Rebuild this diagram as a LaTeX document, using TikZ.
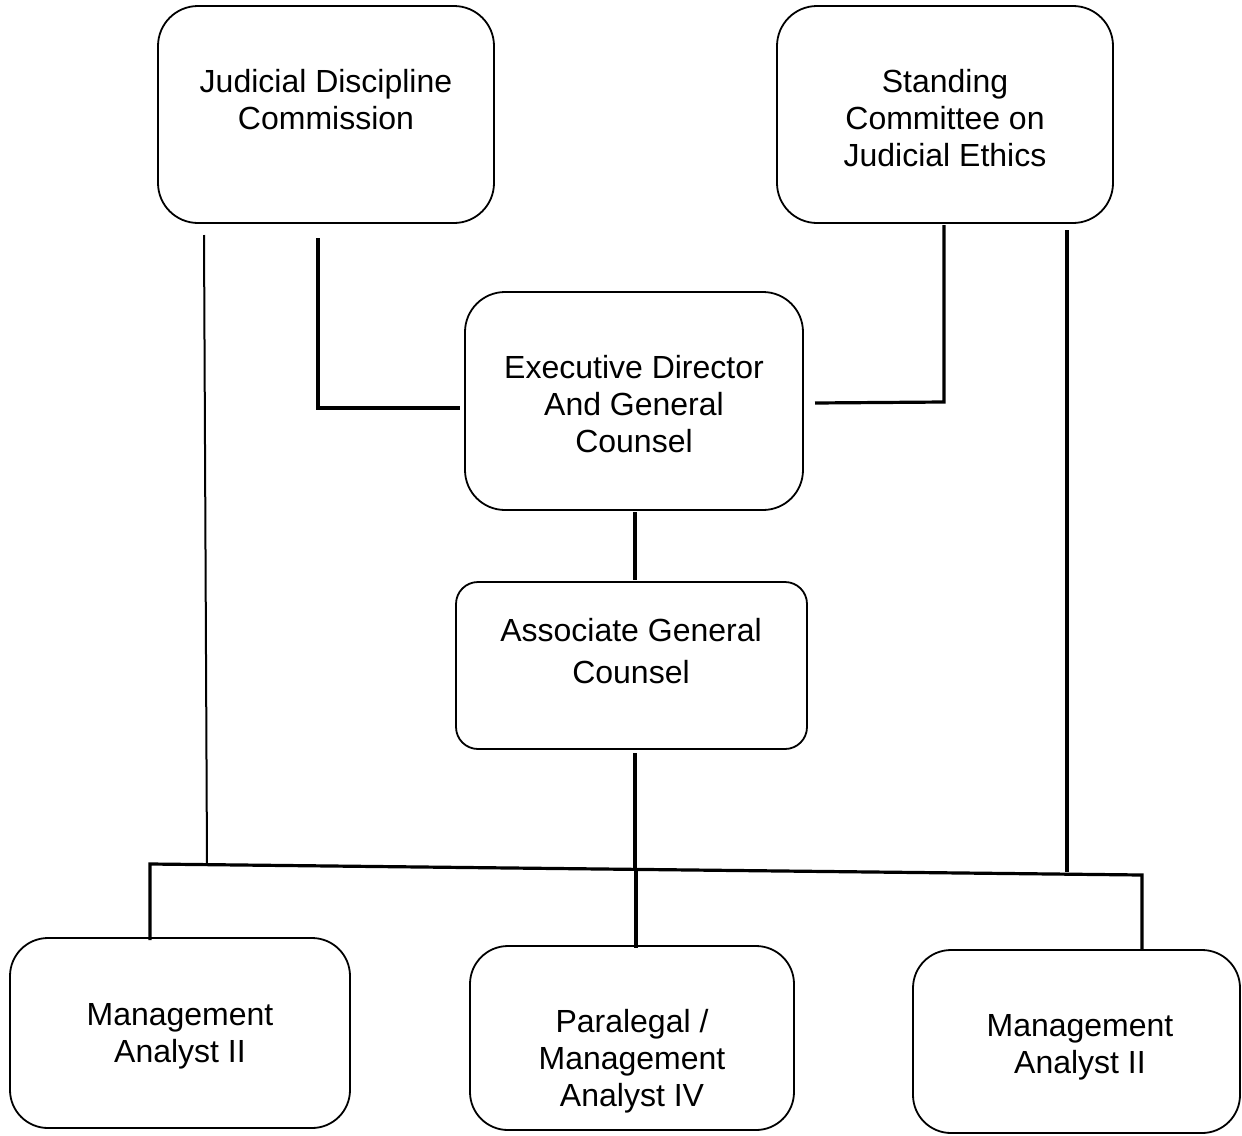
\documentclass[tikz,border=0pt]{standalone}
\usepackage{fontspec}
\setmainfont{Liberation Sans}
\begin{document}
\begin{tikzpicture}[x=1pt,y=-1pt,
  box/.style={draw=black,line width=1.8pt,rounded corners=#1,inner sep=0pt},
  box/.default=40pt,
  lbl/.style={align=center,font=\fontsize{32}{37}\selectfont,inner sep=0pt},
  conn/.style={line width=3.2pt,line cap=butt},
  thin/.style={line width=2pt}]
\useasboundingbox[fill=white] (0,0) rectangle (1242,1135);
% boxes
\draw[box] (158,6) rectangle (494,223) coordinate[pos=0.5] (jdc);
\draw[box] (777,6) rectangle (1113,223) coordinate[pos=0.5] (scje);
\draw[box] (465,292) rectangle (803,510) coordinate[pos=0.5] (ed);
\draw[box=22pt] (456,582) rectangle (807,749) coordinate[pos=0.5] (agc);
\draw[box=38pt] (10,938) rectangle (350,1128) coordinate[pos=0.5] (mal);
\draw[box=38pt] (470,946) rectangle (794,1130) coordinate[pos=0.5] (para);
\draw[box=38pt] (913,950) rectangle (1240,1133) coordinate[pos=0.5] (mar);
% texts
\node[lbl] (tjdc) at (326,100) {Judicial Discipline\\Commission};
\node[lbl] (tscje) at (945,118) {Standing\\Committee on\\Judicial Ethics};
\node[lbl] (ted) at (634,404) {Executive Director\\And General\\Counsel};
\node[lbl,font=\fontsize{32}{42}\selectfont] (tagc) at (631,651) {Associate General\\Counsel};
\node[lbl] (tmal) at (180,1036) {Management\\Analyst II};
\node[lbl] (tpara) at (632,1061) {Paralegal /\\Management\\Analyst IV};
\node[lbl] (tmar) at (1080,1047) {Management\\Analyst II};
% connector coordinates
\coordinate (a1) at (204,235);
\coordinate (a2) at (207,865);
\coordinate (b1) at (318,238);
\coordinate (b2) at (318,408);
\coordinate (b3) at (460,408);
\coordinate (c1) at (944,225);
\coordinate (c2) at (944,402);
\coordinate (c3) at (815,403);
\coordinate (d1) at (1067,230);
\coordinate (d2) at (1067,872);
\coordinate (e1) at (635,512);
\coordinate (e2) at (635,580);
\coordinate (f1) at (635,753);
\coordinate (f2) at (635,868);
\coordinate (g0) at (150,940);
\coordinate (g1) at (150,864);
\coordinate (g2) at (1142,875);
\coordinate (g3) at (1142,950);
\coordinate (h1) at (636,870);
\coordinate (h2) at (636,948);
% connectors
\draw[thin] (a1) -- (a2);
\draw[conn] (b1) -- (b2) -- (b3);
\draw[conn] (c1) -- (c2) -- (c3);
\draw[conn] (d1) -- (d2);
\draw[conn] (e1) -- (e2);
\draw[conn] (f1) -- (f2);
\draw[conn] (g0) -- (g1) -- (g2) -- (g3);
\draw[conn] (h1) -- (h2);
\end{tikzpicture}
\end{document}
